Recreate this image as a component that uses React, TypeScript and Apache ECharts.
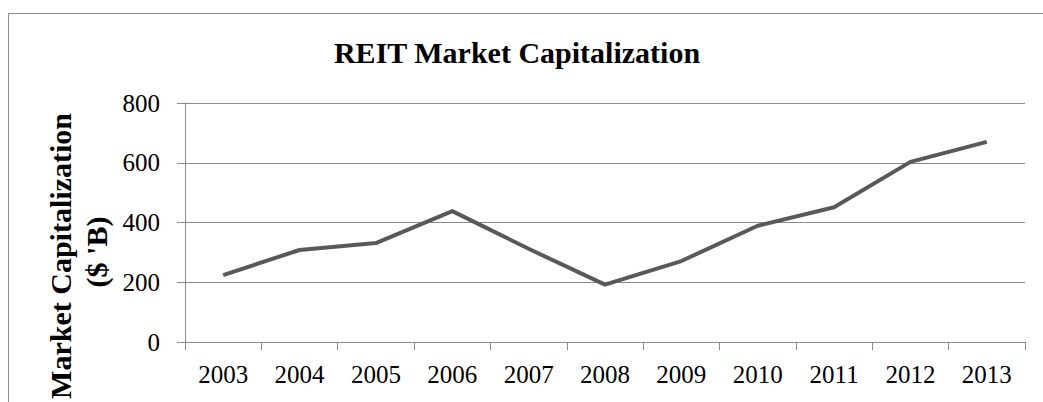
import React, { useEffect, useRef } from "react";
import * as echarts from "echarts";

const years = ["2003", "2004", "2005", "2006", "2007", "2008", "2009", "2010", "2011", "2012", "2013"];
const marketCap = [224, 308, 331, 438, 312, 192, 271, 389, 451, 603, 670];
const titleText = "REIT Market Capitalization";
const yNameLine1 = "Market Capitalization";
const yNameLine2 = "($ 'B)";

const FONT = "'Liberation Serif', 'Times New Roman', serif";

export default function App() {
  const ref = useRef<HTMLDivElement>(null);
  useEffect(() => {
    if (!ref.current) return;
    const chart = echarts.init(ref.current, undefined, { renderer: "svg" });
    chart.setOption({
      animation: false,
      backgroundColor: "#ffffff",
      grid: { left: 185, right: 18, top: 103, bottom: 60, containLabel: false },
      xAxis: {
        type: "category",
        data: years,
        boundaryGap: true,
        axisLine: { show: true, lineStyle: { color: "#8c8c8c", width: 1 } },
        axisTick: { show: true, length: 8, lineStyle: { color: "#8c8c8c" } },
        axisLabel: { color: "#000", fontFamily: FONT, fontSize: 25, margin: 20 },
        splitLine: { show: false },
      },
      yAxis: {
        type: "value",
        min: 0,
        max: 800,
        interval: 200,
        axisLine: { show: true, lineStyle: { color: "#8c8c8c", width: 1 } },
        axisTick: { show: true, length: 8, lineStyle: { color: "#8c8c8c" } },
        axisLabel: { color: "#000", fontFamily: FONT, fontSize: 25, margin: 25 },
        splitLine: { show: true, lineStyle: { color: "#8c8c8c", width: 1 } },
      },
      series: [
        {
          type: "line",
          data: marketCap,
          symbol: "none",
          lineStyle: { color: "#595959", width: 4 },
        },
      ],
      graphic: [
        {
          type: "rect",
          shape: { x: 8.5, y: 13.5, width: 1200, height: 600 },
          style: { fill: "none", stroke: "#8c8c8c", lineWidth: 1 },
          silent: true,
        },
        {
          type: "text",
          x: 517,
          y: 37,
          style: {
            text: titleText,
            font: `bold 30px ${FONT}`,
            fill: "#000",
            textAlign: "center",
            textVerticalAlign: "top",
          },
        },
        {
          type: "text",
          x: 60,
          y: 256,
          rotation: Math.PI / 2,
          style: {
            text: yNameLine1,
            font: `bold 30px ${FONT}`,
            fill: "#000",
            textAlign: "center",
            textVerticalAlign: "middle",
          },
        },
        {
          type: "text",
          x: 96,
          y: 252,
          rotation: Math.PI / 2,
          style: {
            text: yNameLine2,
            font: `bold 30px ${FONT}`,
            fill: "#000",
            textAlign: "center",
            textVerticalAlign: "middle",
          },
        },
      ],
    });
    return () => chart.dispose();
  }, []);
  return (
    <div
      ref={ref}
      style={{ position: "fixed", left: 0, top: 0, width: 1043, height: 402, background: "#fff" }}
    />
  );
}
